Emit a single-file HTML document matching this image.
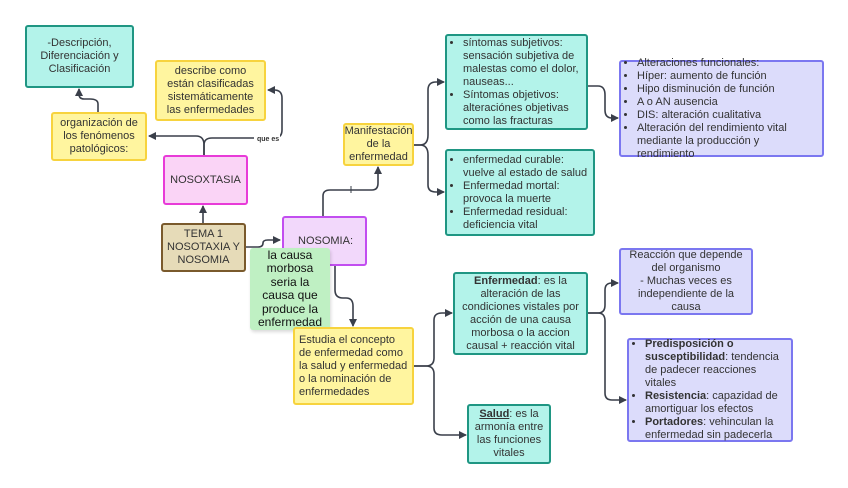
<!DOCTYPE html>
<html><head><meta charset="utf-8"><style>
body{margin:0;width:848px;height:488px;background:#fff;position:relative;overflow:hidden;font-family:"Liberation Sans",sans-serif;color:#333}
.b{position:absolute;box-sizing:border-box;border-radius:3px;display:flex;align-items:center;justify-content:center;text-align:center;font-size:11px;line-height:13px;padding:2px 4px}
.t{background:#b3f3ea;border:2px solid #1f9683}
.y{background:#fff59f;border:2px solid #f7d33e}
.p{background:#fad4f6;border:2px solid #e83bd8}
.v{background:#f2d8fb;border:2px solid #c24ef0}
.l{background:#dcdcfb;border:2px solid #7b77f0}
.k{background:#e6dbb8;border:2px solid #7a5a2c}
ul{margin:0;padding-left:12px;text-align:left}
li{margin:0}
.L{justify-content:flex-start;text-align:left}
</style></head><body>
<svg width="848" height="488" style="position:absolute;left:0;top:0">
<defs><marker id="a" markerWidth="8" markerHeight="8" refX="7" refY="4" orient="auto" markerUnits="userSpaceOnUse"><path d="M0,0L8,4L0,8z" fill="#3a3f4a"/></marker></defs>
<g fill="none" stroke="#3a3f4a" stroke-width="1.6">
<path d="M204,155V145Q204,136 196,136H149" marker-end="url(#a)"/>
<path d="M204,155V145Q204,138 212,138H274Q282,138 282,130V98Q282,90 274,90H268" marker-end="url(#a)"/>
<path d="M98,112V104Q98,99 90,99H84Q79,99 79,94V89" marker-end="url(#a)"/>
<path d="M203,223V206" marker-end="url(#a)"/>
<path d="M245,247H258Q263,247 263,243Q263,240 268,240H280" marker-end="url(#a)"/>
<path d="M323,216V196Q323,190 330,190H372Q378,190 378,183V167" marker-end="url(#a)"/>
<path d="M335,265V290Q335,298 343,298H346Q353,298 353,306V326" marker-end="url(#a)"/>
<path d="M404,145H420Q428,145 428,135V90Q428,82 436,82H444" marker-end="url(#a)"/>
<path d="M404,145H420Q428,145 428,155V185Q428,192 436,192H444" marker-end="url(#a)"/>
<path d="M587,86H598Q605,86 605,95V110Q605,118 612,118H618" marker-end="url(#a)"/>
<path d="M413,366H426Q434,366 434,358V320Q434,313 442,313H452" marker-end="url(#a)"/>
<path d="M413,366H426Q434,366 434,374V428Q434,435 442,435H466" marker-end="url(#a)"/>
<path d="M587,313H598Q605,313 605,305V290Q605,283 612,283H618" marker-end="url(#a)"/>
<path d="M587,313H598Q605,313 605,321V393Q605,400 612,400H626" marker-end="url(#a)"/>
</g>
<line x1="351" y1="186" x2="351" y2="193" stroke="#3a3f4a" stroke-width="1"/>
<rect x="254" y="133" width="26" height="9" fill="#fff"/>
<text x="257" y="141" font-size="7" font-family="Liberation Sans" fill="#333" font-weight="bold">que es</text>
</svg>
<div class="b t" style="left:25px;top:25px;width:109px;height:63px">-Descripción,<br>Diferenciación y<br>Clasificación</div>
<div class="b y" style="left:155px;top:60px;width:111px;height:61px">describe como están clasificadas sistemáticamente las enfermedades</div>
<div class="b y" style="left:51px;top:112px;width:96px;height:49px">organización de los fenómenos patológicos:</div>
<div class="b p" style="left:163px;top:155px;width:85px;height:50px">NOSOXTASIA</div>
<div class="b k" style="left:161px;top:223px;width:85px;height:49px">TEMA 1<br>NOSOTAXIA Y<br>NOSOMIA</div>
<div class="b v" style="left:282px;top:216px;width:85px;height:50px;justify-content:flex-start;padding-left:14px">NOSOMIA:</div>
<div class="b" style="left:250px;top:248px;width:80px;height:82px;background:#bff0c3;color:#111;font-size:12px;line-height:13.5px;box-shadow:1px 2px 3px rgba(0,0,0,.15)">la causa morbosa seria la causa que produce la enfermedad</div>
<div class="b y" style="left:343px;top:123px;width:71px;height:43px">Manifestación de la enfermedad</div>
<div class="b t L" style="left:445px;top:34px;width:143px;height:96px"><ul><li>síntomas subjetivos: sensación subjetiva de malestas como el dolor, nauseas...</li><li>Síntomas objetivos: alteraciónes objetivas como las fracturas</li></ul></div>
<div class="b t L" style="left:445px;top:149px;width:150px;height:87px"><ul><li>enfermedad curable: vuelve al estado de salud</li><li>Enfermedad mortal: provoca la muerte</li><li>Enfermedad residual: deficiencia vital</li></ul></div>
<div class="b l L" style="left:619px;top:60px;width:205px;height:97px"><ul><li>Alteraciones funcionales:</li><li>Híper: aumento de función</li><li>Hipo disminución de función</li><li>A o AN ausencia</li><li>DIS: alteración cualitativa</li><li>Alteración del rendimiento vital mediante la producción y rendimiento</li></ul></div>
<div class="b y L" style="left:293px;top:327px;width:121px;height:78px">Estudia el concepto de enfermedad como la salud y enfermedad o la nominación de enfermedades</div>
<div class="b t" style="left:453px;top:272px;width:135px;height:83px"><span><b>Enfermedad</b>: es la alteración de las condiciones vistales por acción de una causa morbosa o la accion causal + reacción vital</span></div>
<div class="b t" style="left:467px;top:404px;width:84px;height:60px"><span><b><u>Salud</u></b>: es la armonía entre las funciones vitales</span></div>
<div class="b l" style="left:619px;top:248px;width:134px;height:67px">Reacción que depende del organismo<br>- Muchas veces es independiente de la causa</div>
<div class="b l L" style="left:627px;top:338px;width:166px;height:104px"><ul><li><b>Predisposición o susceptibilidad</b>: tendencia de padecer reacciones vitales</li><li><b>Resistencia</b>: capazidad de amortiguar los efectos</li><li><b>Portadores</b>: vehinculan la enfermedad sin padecerla</li></ul></div>
</body></html>
